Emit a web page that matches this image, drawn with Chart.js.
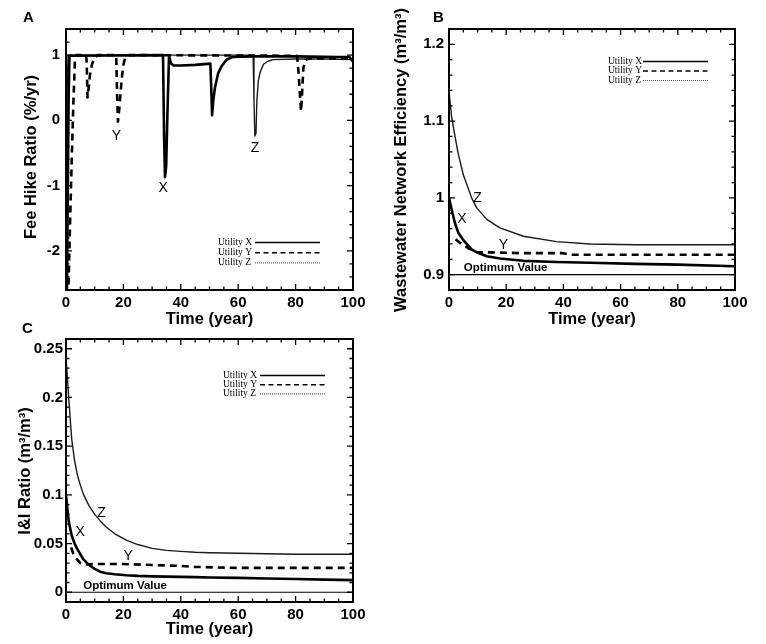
<!DOCTYPE html>
<html>
<head>
<meta charset="utf-8">
<script src="https://cdn.jsdelivr.net/npm/chart.js@4.4.1/dist/chart.umd.min.js"></script>
<style>
html, body { margin: 0; padding: 0; background: #fff; }
#wrap { position: relative; width: 766px; height: 644px; overflow: hidden; }
#wrap canvas { position: absolute; left: 0; top: 0; }
</style>
</head>
<body>
<div id="wrap">
  <canvas id="panel-a" width="766" height="644"></canvas>
  <canvas id="panel-b" width="766" height="644"></canvas>
  <canvas id="panel-c" width="766" height="644"></canvas>
</div>
<script>
// ===========================================
// data
// ===========================================

// (A) fee hike ratio, %/yr
const feeTimeX = [0.3, 0.6, 0.9, 1.2, 33.8, 34.2, 34.5, 34.9, 35.4, 35.9, 36.6, 37.5, 40, 45, 50.3, 50.6, 50.9, 51.3, 51.9, 53.0, 54.2, 56.0, 58.0, 65, 80, 95, 98.8, 100];
const feeX     = [-2.7, -1.2, 0.3, 0.99, 1.0, -0.3, -0.87, -0.7, 0.2, 0.99, 0.87, 0.84, 0.84, 0.85, 0.87, 0.5, 0.08, 0.3, 0.5, 0.72, 0.83, 0.93, 0.97, 0.98, 0.98, 0.97, 0.97, 0.9];
const feeTimeY = [0.8, 1.4, 2.0, 2.6, 3.1, 3.6, 7.0, 7.2, 7.5, 7.9, 8.3, 9.0, 9.8, 11, 17.5, 17.8, 18.1, 18.6, 19.4, 20.0, 20.6, 22, 80.5, 81.0, 81.5, 81.9, 82.3, 82.7, 83.5, 85, 100];
const feeY     = [-2.7, -1.6, -0.6, 0.3, 0.9, 1.0, 1.0, 0.9, 0.35, 0.5, 0.68, 0.85, 0.95, 1.0, 1.0, 0.4, -0.02, 0.2, 0.63, 0.85, 0.96, 1.0, 0.99, 0.75, 0.4, 0.14, 0.45, 0.8, 0.93, 0.95, 0.95];
const feeTimeZ = [0.0, 0.2, 0.45, 0.7, 65.2, 65.5, 65.8, 66.2, 66.5, 67.0, 67.6, 68.8, 70.5, 72.2, 80, 90, 100];
const feeZ     = [-2.7, -1.0, 0.5, 1.0, 1.0, 0.3, -0.24, -0.2, 0.3, 0.6, 0.73, 0.86, 0.91, 0.93, 0.94, 0.94, 0.93];

// (B) wastewater network efficiency, m3/m3
const effTime = [0, 0.9, 2.1, 3.2, 5, 7.9, 9.7, 13.2, 17.8, 26, 37.6, 49.3, 65, 80, 100];
const effX    = [1.0, 0.985, 0.967, 0.955, 0.945, 0.933, 0.929, 0.924, 0.921, 0.918, 0.9165, 0.9155, 0.914, 0.913, 0.911];
const effZ    = [1.138, 1.106, 1.08, 1.058, 1.03, 1.0, 0.987, 0.972, 0.961, 0.95, 0.943, 0.940, 0.939, 0.939, 0.939];
const effTimeY = [2.3, 4, 7, 10, 15, 25, 40, 42, 60, 80, 100];
const effY     = [0.946, 0.941, 0.934, 0.929, 0.929, 0.928, 0.928, 0.926, 0.926, 0.926, 0.926];
const effOptimum = 0.9;

// (C) I&I ratio, m3/m3
const iiTime = [0, 0.5, 1, 2, 3, 4, 5, 6, 8, 10, 12, 14, 17, 21, 25, 30, 35, 40, 45, 50, 60, 70, 80, 90, 100];
const iiX    = [0.1, 0.085, 0.072, 0.058, 0.05, 0.044, 0.039, 0.034, 0.028, 0.024, 0.021, 0.0195, 0.0185, 0.0175, 0.0168, 0.0163, 0.016, 0.0158, 0.0155, 0.0152, 0.0148, 0.0142, 0.0136, 0.013, 0.0125];
const iiZ    = [0.24, 0.22, 0.197, 0.157, 0.135, 0.12, 0.11, 0.101, 0.089, 0.08, 0.073, 0.067, 0.06, 0.0535, 0.049, 0.045, 0.043, 0.042, 0.041, 0.0405, 0.04, 0.0395, 0.039, 0.039, 0.039];
const iiTimeY = [1.8, 2.5, 3.5, 5, 7, 10, 20, 30, 40, 45, 60, 80, 100];
const iiY     = [0.046, 0.04, 0.035, 0.03, 0.0285, 0.029, 0.029, 0.028, 0.027, 0.026, 0.025, 0.025, 0.025];
const iiOptimum = 0;

const xTicks = [0, 20, 40, 60, 80, 100];
const feeTicks = [-2, -1, 0, 1];
const effTicks = [0.9, 1, 1.1, 1.2];
const iiTicks = [0, 0.05, 0.1, 0.15, 0.2, 0.25];
const utilityNames = ['Utility X', 'Utility Y', 'Utility Z'];

// ===========================================
// helpers
// ===========================================
const SANS = '"Liberation Sans", Arial, sans-serif';
const SERIF = '"Liberation Serif", "Times New Roman", serif';
const pts = (ts, vs) => ts.map((t, i) => ({x: t, y: vs[i]}));
const fmtNum = v => String(+v.toFixed(4));

function lineSet(label, data, kind) {
  const st = {
    X: {borderWidth: 2.6, borderDash: []},
    Y: {borderWidth: 2.6, borderDash: [7, 5]},
    Z: {borderWidth: 1.4, borderDash: [], borderColor: '#1a1a1a'},
    O: {borderWidth: 1.2, borderDash: []}
  }[kind];
  return Object.assign({label, data, borderColor: '#000', pointRadius: 0, tension: 0, fill: false,
                        borderJoinStyle: 'round'}, st);
}

// frame, inward ticks on four sides, y title, labels and legend
const panelDeco = {
  id: 'panelDeco',
  afterDatasetsDraw(chart, args, o) {
    const {ctx, chartArea: a, scales: {x, y}} = chart;
    ctx.save();
    ctx.strokeStyle = '#000';
    ctx.lineWidth = 2;
    ctx.strokeRect(a.left, a.top, a.right - a.left, a.bottom - a.top);

    const marks = (sc, minor, major) => {
      const out = [];
      for (let k = Math.ceil(sc.min / minor - 1e-9); k * minor <= sc.max + 1e-9; k++) {
        const v = k * minor;
        const r = v / major;
        out.push({p: sc.getPixelForValue(v), big: Math.abs(r - Math.round(r)) < 1e-6});
      }
      return out;
    };
    ctx.lineWidth = 1.3;
    ctx.beginPath();
    marks(x, o.xMinor, o.xMajor).forEach(m => {
      const l = m.big ? 6 : 3.5;
      ctx.moveTo(m.p, a.bottom); ctx.lineTo(m.p, a.bottom - l);
      ctx.moveTo(m.p, a.top); ctx.lineTo(m.p, a.top + l);
    });
    marks(y, o.yMinor, o.yMajor).forEach(m => {
      const l = m.big ? 6 : 3.5;
      ctx.moveTo(a.left, m.p); ctx.lineTo(a.left + l, m.p);
      ctx.moveTo(a.right, m.p); ctx.lineTo(a.right - l, m.p);
    });
    ctx.stroke();

    ctx.fillStyle = '#000';
    // y axis title
    ctx.save();
    ctx.translate(o.yTitle.x, o.yTitle.y);
    ctx.rotate(-Math.PI / 2);
    ctx.font = 'bold 16.5px ' + SANS;
    ctx.textAlign = 'center';
    ctx.textBaseline = 'alphabetic';
    ctx.fillText(o.yTitle.text, 0, 0);
    ctx.restore();

    // panel letter
    ctx.font = 'bold 15px ' + SANS;
    ctx.textAlign = 'left';
    ctx.textBaseline = 'alphabetic';
    ctx.fillText(o.letter.text, o.letter.x, o.letter.y);

    // curve labels
    ctx.textAlign = 'center';
    ctx.textBaseline = 'middle';
    (o.notes || []).forEach(n => {
      ctx.font = (n.bold ? 'bold ' : '') + n.size + 'px ' + SANS;
      ctx.fillText(n.text, x.getPixelForValue(n.t), y.getPixelForValue(n.v));
    });

    // legend (text first, then the line sample)
    const lg = o.legend;
    const sample = [
      {w: 1.4, dash: [], c: '#000'},
      {w: 1.6, dash: [5, 3.5], c: '#000'},
      {w: 1.1, dash: [1, 1], c: '#555'}
    ];
    ctx.font = '9.5px ' + SERIF;
    ctx.textAlign = 'left';
    ctx.textBaseline = 'middle';
    utilityNames.forEach((name, i) => {
      const yy = lg.y + i * lg.gap;
      ctx.fillStyle = '#000';
      ctx.fillText(name, lg.x, yy);
      ctx.beginPath();
      ctx.setLineDash(sample[i].dash);
      ctx.lineWidth = sample[i].w;
      ctx.strokeStyle = sample[i].c;
      ctx.moveTo(lg.x1, yy + 0.5);
      ctx.lineTo(lg.x2, yy + 0.5);
      ctx.stroke();
    });
    ctx.setLineDash([]);
    ctx.restore();
  }
};

function makePanel(id, cfg) {
  new Chart(document.getElementById(id), {
    type: 'line',
    data: {datasets: cfg.datasets},
    plugins: [panelDeco],
    options: {
      responsive: false,
      animation: false,
      layout: {padding: cfg.padding},
      plugins: {legend: {display: false}, tooltip: {enabled: false}, panelDeco: cfg.deco},
      scales: {
        x: {
          type: 'linear', min: 0, max: 100,
          grid: {display: false, drawTicks: false},
          border: {display: false},
          afterBuildTicks: s => { s.ticks = xTicks.map(value => ({value})); },
          afterFit: s => { s.height = 40; },
          ticks: {color: '#000', padding: 4, maxRotation: 0, autoSkip: false,
                  font: {family: SANS, size: 15, weight: 'bold'}, callback: v => fmtNum(v)},
          title: {display: true, text: 'Time (year)', color: '#000',
                  font: {family: SANS, size: 16.5, weight: 'bold'}, padding: {top: 0, bottom: cfg.xTitlePad}}
        },
        y: {
          type: 'linear', min: cfg.yMin, max: cfg.yMax,
          grid: {display: false, drawTicks: false},
          border: {display: false},
          afterBuildTicks: s => { s.ticks = cfg.yTicks.map(value => ({value})); },
          afterFit: s => { s.width = 66; },
          ticks: {color: '#000', padding: cfg.yTickPad, autoSkip: false,
                  font: {family: SANS, size: 15, weight: 'bold'}, callback: v => fmtNum(v)}
        }
      }
    }
  });
}

// ===========================================
// panel A
// ===========================================
makePanel('panel-a', {
  padding: {left: 0, top: 29, right: 413, bottom: 314},
  yMin: -2.6, yMax: 1.4, yTicks: feeTicks, yTickPad: 6, xTitlePad: 1,
  datasets: [
    lineSet('Utility X', pts(feeTimeX, feeX), 'X'),
    lineSet('Utility Y', pts(feeTimeY, feeY), 'Y'),
    lineSet('Utility Z', pts(feeTimeZ, feeZ), 'Z')
  ],
  deco: {
    xMinor: 5, xMajor: 20, yMinor: 0.2, yMajor: 1,
    yTitle: {text: 'Fee Hike Ratio (%/yr)', x: 36, y: 157},
    letter: {text: 'A', x: 23, y: 22},
    notes: [
      {text: 'Y', t: 17.6, v: -0.24, size: 14},
      {text: 'X', t: 33.9, v: -1.04, size: 14},
      {text: 'Z', t: 65.9, v: -0.43, size: 14}
    ],
    legend: {x: 218, y: 242, gap: 10.2, x1: 255, x2: 320}
  }
});

// ===========================================
// panel B
// ===========================================
makePanel('panel-b', {
  padding: {left: 383, top: 29, right: 31, bottom: 314},
  yMin: 0.88, yMax: 1.22, yTicks: effTicks, yTickPad: 5, xTitlePad: 1,
  datasets: [
    lineSet('Utility X', pts(effTime, effX), 'X'),
    lineSet('Utility Y', pts(effTimeY, effY), 'Y'),
    lineSet('Utility Z', pts(effTime, effZ), 'Z'),
    lineSet('Optimum Value', pts([0, 100], [effOptimum, effOptimum]), 'O')
  ],
  deco: {
    xMinor: 5, xMajor: 20, yMinor: 0.02, yMajor: 0.1,
    yTitle: {text: 'Wastewater Network Efficiency (m³/m³)', x: 406, y: 160},
    letter: {text: 'B', x: 433, y: 22},
    notes: [
      {text: 'Z', t: 10.0, v: 1.0, size: 14},
      {text: 'X', t: 4.5, v: 0.972, size: 14},
      {text: 'Y', t: 19, v: 0.938, size: 14},
      {text: 'Optimum Value', t: 19.8, v: 0.9084, size: 11.5, bold: true}
    ],
    legend: {x: 608, y: 61, gap: 9.5, x1: 643, x2: 708}
  }
});

// ===========================================
// panel C
// ===========================================
makePanel('panel-c', {
  padding: {left: 0, top: 339, right: 413, bottom: 2},
  yMin: -0.01, yMax: 0.26, yTicks: iiTicks, yTickPad: 3, xTitlePad: 3,
  datasets: [
    lineSet('Utility X', pts(iiTime, iiX), 'X'),
    lineSet('Utility Y', pts(iiTimeY, iiY), 'Y'),
    lineSet('Utility Z', pts(iiTime, iiZ), 'Z'),
    lineSet('Optimum Value', pts([0, 100], [iiOptimum, iiOptimum]), 'O')
  ],
  deco: {
    xMinor: 5, xMajor: 20, yMinor: 0.01, yMajor: 0.05,
    yTitle: {text: 'I&I Ratio (m³/m³)', x: 30, y: 471},
    letter: {text: 'C', x: 22, y: 333},
    notes: [
      {text: 'Z', t: 12.4, v: 0.081, size: 14},
      {text: 'X', t: 4.9, v: 0.062, size: 14},
      {text: 'Y', t: 21.7, v: 0.037, size: 14},
      {text: 'Optimum Value', t: 20.6, v: 0.0062, size: 11.5, bold: true}
    ],
    legend: {x: 223, y: 375, gap: 9.2, x1: 260, x2: 325}
  }
});
</script>
</body>
</html>
